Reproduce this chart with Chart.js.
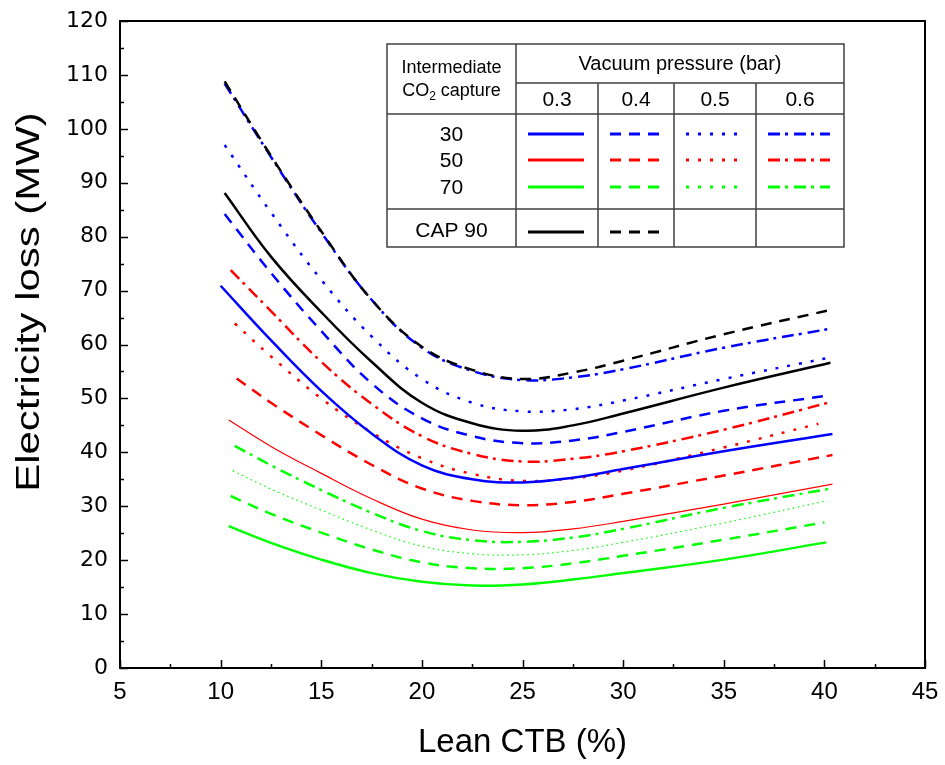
<!DOCTYPE html>
<html>
<head>
<meta charset="utf-8">
<script src="https://cdn.jsdelivr.net/npm/chart.js@4/dist/chart.umd.min.js"></script>
<style>
  body { margin: 0; background: #fff; }
  canvas { display: block; }
</style>
</head>
<body>
<canvas id="chart" width="945" height="765"></canvas>
<script>
// Lean CTB (%) sample points and electricity loss (MW) for each case
// naming: y_<intermediate capture>_<vacuum pressure>
const x_30_03 = [10.0, 12.5, 15, 17.5, 20, 22.5, 25, 27.5, 30, 35, 40.4];
const y_30_03 = [70.9, 60.8, 51.4, 43.5, 37.6, 35.0, 34.4, 35.3, 36.9, 40.2, 43.4];
const x_30_04 = [10.2, 12.5, 15, 17.5, 20, 22.5, 25, 27.5, 30, 35, 40.1];
const y_30_04 = [84.2, 73.3, 62.5, 52.8, 46.3, 43.0, 41.7, 42.2, 43.8, 47.7, 50.5];
const x_30_05 = [10.2, 12.5, 15, 17.5, 20, 22.5, 25, 27.5, 30, 35, 40.3];
const y_30_05 = [97.0, 84.5, 72.0, 61.5, 53.6, 49.2, 47.6, 48.0, 49.6, 53.6, 57.6];
const x_30_06 = [10.2, 12.5, 15, 17.5, 20, 22.5, 25, 27.5, 30, 35, 40.4];
const y_30_06 = [108.4, 94.8, 80.8, 68.3, 59.4, 55.1, 53.4, 53.9, 55.4, 59.4, 63.0];

const x_50_03 = [10.4, 12.5, 15, 17.5, 20, 22.5, 25, 27.5, 30, 35, 40.4];
const y_50_03 = [46.0, 41.1, 36.1, 31.4, 27.6, 25.6, 25.1, 25.8, 27.2, 30.4, 34.1];
const x_50_04 = [10.8, 12.5, 15, 17.5, 20, 22.5, 25, 27.5, 30, 35, 40.4];
const y_50_04 = [53.7, 49.2, 43.2, 37.7, 33.3, 31.0, 30.2, 30.8, 32.3, 35.7, 39.5];
const x_50_05 = [10.7, 12.5, 15, 17.5, 20, 22.5, 25, 27.5, 30, 35, 39.7];
const y_50_05 = [63.9, 57.8, 50.0, 43.7, 38.9, 36.0, 34.7, 35.2, 36.6, 40.9, 45.3];
const x_50_06 = [10.5, 12.5, 15, 17.5, 20, 22.5, 25, 27.5, 30, 35, 40.3];
const y_50_06 = [73.8, 66.2, 56.8, 49.0, 43.0, 39.7, 38.3, 38.8, 40.2, 44.2, 49.3];

const x_70_03 = [10.4, 12.5, 15, 17.5, 20, 22.5, 25, 27.5, 30, 35, 40.1];
const y_70_03 = [26.3, 23.2, 20.1, 17.6, 16.0, 15.3, 15.5, 16.4, 17.6, 20.1, 23.3];
const x_70_04 = [10.5, 12.5, 15, 17.5, 20, 22.5, 25, 27.5, 30, 35, 40.0];
const y_70_04 = [31.9, 28.6, 25.1, 22.0, 19.6, 18.5, 18.5, 19.4, 20.8, 23.8, 27.0];
const x_70_05 = [10.6, 12.5, 15, 17.5, 20, 22.5, 25, 27.5, 30, 35, 40.1];
const y_70_05 = [36.6, 33.2, 29.3, 25.6, 22.6, 21.2, 21.0, 21.8, 23.3, 26.9, 31.0];
const x_70_06 = [10.7, 12.5, 15, 17.5, 20, 22.5, 25, 27.5, 30, 35, 40.2];
const y_70_06 = [41.2, 37.6, 33.0, 28.8, 25.4, 23.7, 23.4, 24.2, 25.8, 29.7, 33.2];

const x_cap90_03 = [10.2, 12.5, 15, 17.5, 20, 22.5, 25, 27.5, 30, 35, 40.3];
const y_cap90_03 = [88.1, 76.3, 66.0, 56.8, 49.2, 45.4, 44.0, 45.0, 47.2, 52.0, 56.6];
const x_cap90_04 = [10.2, 12.5, 15, 17.5, 20, 22.5, 25, 27.5, 30, 35, 40.4];
const y_cap90_04 = [108.8, 95.0, 81.0, 68.3, 59.6, 55.3, 53.6, 54.8, 57.0, 61.9, 66.5];

// table headings
const pressures = ['0.3', '0.4', '0.5', '0.6'];
const captures = ['30', '50', '70'];

const BLUE = '#0000ff';
const RED = '#ff0000';
const GREEN = '#00ff00';
const BLACK = '#000000';

// dash pattern per vacuum pressure
const DASH = {
    solid: [],
    dashed: [11, 8],
    dotted: [3, 9],
    dashdot: [12, 5, 3, 6]
};
const styleByPressure = ['solid', 'dashed', 'dotted', 'dashdot'];

function makeSet(label, xs, ys, color, style, width, dash) {
    return {
        label: label,
        data: xs.map((v, i) => ({ x: v, y: ys[i] })),
        borderColor: color,
        borderWidth: width,
        borderDash: dash || DASH[style],
        pointRadius: 0,
        fill: false,
        tension: 0.4
    };
}

const datasets = [
    makeSet('CAP 90, 0.4', x_cap90_04, y_cap90_04, BLACK, 'dashed', 2.5),
    makeSet('30, 0.6', x_30_06, y_30_06, BLUE, 'dashdot', 2.5),
    makeSet('30, 0.5', x_30_05, y_30_05, BLUE, 'dotted', 2.5),
    makeSet('CAP 90, 0.3', x_cap90_03, y_cap90_03, BLACK, 'solid', 2.5),
    makeSet('30, 0.4', x_30_04, y_30_04, BLUE, 'dashed', 2.5),
    makeSet('50, 0.6', x_50_06, y_50_06, RED, 'dashdot', 2.5),
    makeSet('30, 0.3', x_30_03, y_30_03, BLUE, 'solid', 2.5),
    makeSet('50, 0.5', x_50_05, y_50_05, RED, 'dotted', 2.5),
    makeSet('50, 0.4', x_50_04, y_50_04, RED, 'dashed', 2.5),
    makeSet('50, 0.3', x_50_03, y_50_03, RED, 'solid', 1.2),
    makeSet('70, 0.6', x_70_06, y_70_06, GREEN, 'dashdot', 2.5),
    makeSet('70, 0.5', x_70_05, y_70_05, GREEN, 'dotted', 1.2, [1.5, 3.5]),
    makeSet('70, 0.4', x_70_04, y_70_04, GREEN, 'dashed', 2.5),
    makeSet('70, 0.3', x_70_03, y_70_03, GREEN, 'solid', 2.5)
];

// frame, inward ticks, y title and the legend table
const decorations = {
    id: 'decorations',
    afterDraw(chart) {
        const { ctx, chartArea: a, scales: { x, y } } = chart;
        ctx.save();

        // box round the plot
        ctx.strokeStyle = '#000';
        ctx.lineWidth = 2;
        ctx.setLineDash([]);
        ctx.strokeRect(a.left, a.top, a.right - a.left, a.bottom - a.top);

        // ticks point into the plot, bottom and left only
        ctx.lineWidth = 1.5;
        ctx.beginPath();
        for (let v = 5; v <= 45; v += 2.5) {
            const px = Math.round(x.getPixelForValue(v)) + 0.5;
            const len = v % 5 === 0 ? 8 : 4;
            ctx.moveTo(px, a.bottom);
            ctx.lineTo(px, a.bottom - len);
        }
        for (let v = 0; v <= 120; v += 5) {
            const py = Math.round(y.getPixelForValue(v)) + 0.5;
            const len = v % 10 === 0 ? 8 : 4;
            ctx.moveTo(a.left, py);
            ctx.lineTo(a.left + len, py);
        }
        ctx.stroke();

        // y axis title, a little wider than plain Arial
        ctx.save();
        ctx.translate(30, 302);
        ctx.rotate(-Math.PI / 2);
        ctx.scale(1.27, 1);
        ctx.fillStyle = '#000';
        ctx.font = '33px "Liberation Sans", Arial, sans-serif';
        ctx.textAlign = 'center';
        ctx.textBaseline = 'middle';
        ctx.fillText('Electricity loss (MW)', 0, 0);
        ctx.restore();

        // legend table
        const L = 387, R = 844, T = 44, B = 247;
        const c1 = 516;
        const cols = [516, 598, 674, 756, 844];
        const hHead = 83, hSub = 114, hCap = 209;

        ctx.fillStyle = '#fff';
        ctx.fillRect(L, T, R - L, B - T);
        ctx.strokeStyle = '#404040';
        ctx.lineWidth = 1.5;
        ctx.beginPath();
        ctx.rect(L, T, R - L, B - T);
        ctx.moveTo(c1, T); ctx.lineTo(c1, B);
        ctx.moveTo(c1, hHead); ctx.lineTo(R, hHead);
        for (let i = 1; i < 4; i++) {
            ctx.moveTo(cols[i], hHead); ctx.lineTo(cols[i], B);
        }
        ctx.moveTo(L, hSub); ctx.lineTo(R, hSub);
        ctx.moveTo(L, hCap); ctx.lineTo(R, hCap);
        ctx.stroke();

        ctx.fillStyle = '#000';
        ctx.textAlign = 'center';
        ctx.textBaseline = 'middle';
        const cx = (L + c1) / 2;

        ctx.font = '18px "Liberation Sans", Arial, sans-serif';
        ctx.fillText('Intermediate', cx, 68);
        // CO2 with a subscript 2
        const a1 = 'CO', a2 = ' capture';
        const w1 = ctx.measureText(a1).width;
        const w3 = ctx.measureText(a2).width;
        ctx.font = '12px "Liberation Sans", Arial, sans-serif';
        const w2 = ctx.measureText('2').width;
        let sx = cx - (w1 + w2 + w3) / 2;
        ctx.textAlign = 'left';
        ctx.font = '18px "Liberation Sans", Arial, sans-serif';
        ctx.fillText(a1, sx, 91);
        ctx.font = '12px "Liberation Sans", Arial, sans-serif';
        ctx.fillText('2', sx + w1, 97);
        ctx.font = '18px "Liberation Sans", Arial, sans-serif';
        ctx.fillText(a2, sx + w1 + w2, 91);

        ctx.textAlign = 'center';
        ctx.font = '20px "Liberation Sans", Arial, sans-serif';
        ctx.fillText('Vacuum pressure (bar)', (c1 + R) / 2, 64);
        ctx.font = '21px "Liberation Sans", Arial, sans-serif';
        pressures.forEach((p, i) => ctx.fillText(p, (cols[i] + cols[i + 1]) / 2, 100));

        const rowY = [134, 160, 187];
        captures.forEach((c, r) => ctx.fillText(c, cx, rowY[r] + 1));
        ctx.fillText('CAP 90', cx, 231);

        // line samples
        const rowColors = [BLUE, RED, GREEN];
        ctx.lineWidth = 3;
        function sample(i, yy, color) {
            ctx.strokeStyle = color;
            ctx.setLineDash(DASH[styleByPressure[i]]);
            ctx.beginPath();
            ctx.moveTo(cols[i] + 12, yy);
            ctx.lineTo(cols[i + 1] - 14, yy);
            ctx.stroke();
        }
        rowColors.forEach((col, r) => {
            for (let i = 0; i < 4; i++) sample(i, rowY[r], col);
        });
        sample(0, 232, BLACK);
        sample(1, 232, BLACK);

        ctx.restore();
    }
};

const tickFontX = { family: '"Liberation Sans", Arial, sans-serif', size: 24 };
const tickFontY = { family: '"DejaVu Sans", sans-serif', size: 22 };

new Chart(document.getElementById('chart'), {
    type: 'line',
    data: { datasets: datasets },
    options: {
        responsive: false,
        animation: false,
        layout: { padding: { top: 21, right: 20, left: 0, bottom: 0 } },
        plugins: {
            legend: { display: false },
            tooltip: { enabled: false }
        },
        scales: {
            x: {
                type: 'linear',
                min: 5,
                max: 45,
                ticks: { stepSize: 5, padding: 10, color: '#000', font: tickFontX, maxRotation: 0 },
                grid: { display: false, drawTicks: false },
                border: { display: false },
                title: {
                    display: true,
                    text: 'Lean CTB (%)',
                    color: '#000',
                    font: { family: '"Liberation Sans", Arial, sans-serif', size: 33 },
                    padding: { top: 0, bottom: 2 }
                },
                afterFit: (s) => {
                    s.height = 97;
                    s.paddingLeft = 0;
                    s.paddingRight = 0;
                }
            },
            y: {
                type: 'linear',
                min: 0,
                max: 120,
                ticks: { stepSize: 10, padding: 12, color: '#000', font: tickFontY },
                grid: { display: false, drawTicks: false },
                border: { display: false },
                afterFit: (s) => {
                    s.width = 120;
                    s.paddingTop = 0;
                    s.paddingBottom = 0;
                }
            }
        }
    },
    plugins: [decorations]
});
</script>
</body>
</html>
